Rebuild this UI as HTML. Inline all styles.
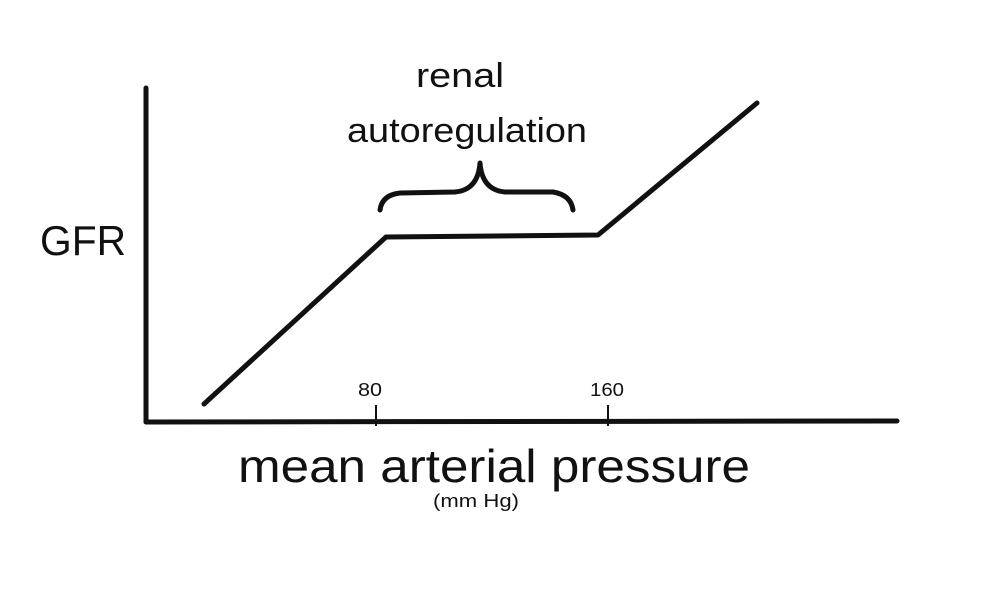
<!DOCTYPE html>
<html><head><meta charset="utf-8"><style>
html,body{margin:0;padding:0;background:#fff;}
svg{display:block;}
text{font-family:"Liberation Sans",sans-serif;fill:#111;}
</style></head><body>
<svg width="1000" height="594" viewBox="0 0 1000 594">
<g stroke="#111" stroke-width="5" fill="none" stroke-linecap="round" stroke-linejoin="round">
<line x1="146" y1="88" x2="146" y2="422"/>
<line x1="146" y1="422" x2="897" y2="421"/>
<polyline points="204,404 386,237 598,235 757,103"/>
<path d="M380,210 Q382,195 400,193 L455,192 Q478,190 480,163 Q482,190 505,192 L553,192 Q571,195 573,210"/>
</g>
<g stroke="#111" stroke-width="2" fill="none">
<line x1="376" y1="405" x2="376" y2="426"/>
<line x1="608" y1="405" x2="608" y2="426"/>
</g>
<text x="40" y="255" font-size="42" textLength="86" lengthAdjust="spacingAndGlyphs">GFR</text>
<text x="416" y="87" font-size="34" textLength="88" lengthAdjust="spacingAndGlyphs">renal</text>
<text x="347" y="142" font-size="34" textLength="240" lengthAdjust="spacingAndGlyphs">autoregulation</text>
<text x="358" y="396" font-size="18" textLength="24" lengthAdjust="spacingAndGlyphs">80</text>
<text x="590" y="396" font-size="18" textLength="34" lengthAdjust="spacingAndGlyphs">160</text>
<text x="238" y="482" font-size="46" textLength="512" lengthAdjust="spacingAndGlyphs">mean arterial pressure</text>
<text x="433" y="507" font-size="18" textLength="86" lengthAdjust="spacingAndGlyphs">(mm Hg)</text>
</svg>
</body></html>
